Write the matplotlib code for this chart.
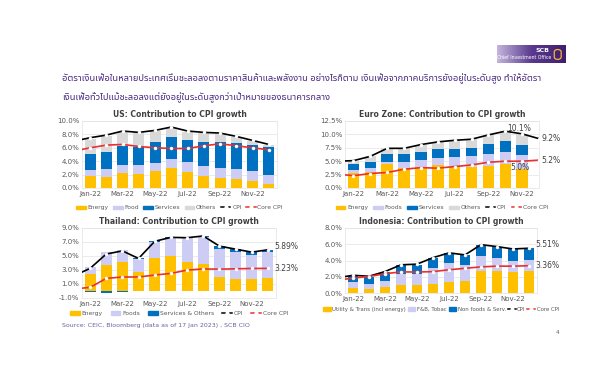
import numpy as np
import matplotlib
matplotlib.use("Agg")
import matplotlib.pyplot as plt
from matplotlib import font_manager
from matplotlib.ft2font import FT2Font
from matplotlib.lines import Line2D
from matplotlib.patches import Patch, FancyBboxPatch


def find_thai_font():
    # pick any installed family that has Thai glyphs
    names = []
    for f in font_manager.fontManager.ttflist:
        try:
            if FT2Font(f.fname).get_char_index(0x0E01):
                names.append(f.name)
        except Exception:
            pass
    for pref in ["Noto Sans Thai", "Noto Sans Thai Looped", "Loma", "Garuda"]:
        if pref in names:
            return pref
    return names[0] if names else "DejaVu Sans"


THAI_FONT = find_thai_font()

# ---------------- data ----------------
months = ["Jan-22", "Feb-22", "Mar-22", "Apr-22", "May-22", "Jun-22",
          "Jul-22", "Aug-22", "Sep-22", "Oct-22", "Nov-22", "Dec-22"]
# line series start at Dec-21 (drawn half-clipped at the left edge)
line_months = ["Dec-21"] + months

us_energy = [1.8, 1.7, 2.2, 2.1, 2.5, 3.0, 2.4, 1.8, 1.5, 1.3, 1.0, 0.6]
us_food = [0.9, 1.1, 1.2, 1.3, 1.3, 1.4, 1.5, 1.5, 1.5, 1.5, 1.5, 1.3]
us_services = [2.4, 2.6, 2.8, 2.7, 3.1, 3.2, 3.2, 3.6, 3.9, 3.9, 3.9, 4.2]
us_others = [2.2, 2.3, 2.2, 2.1, 1.6, 1.4, 1.3, 1.3, 1.2, 0.9, 0.6, 0.3]
us_cpi = [7.0, 7.5, 7.9, 8.5, 8.3, 8.6, 9.1, 8.5, 8.3, 8.2, 7.7, 7.1, 6.5]
us_core = [5.5, 6.0, 6.4, 6.5, 6.2, 6.0, 5.9, 5.9, 6.3, 6.6, 6.3, 6.0, 5.7]

ez_energy = [2.8, 3.0, 4.4, 3.7, 3.9, 4.2, 4.0, 3.9, 4.1, 4.4, 3.5]
ez_foods = [0.6, 0.8, 0.5, 1.1, 1.4, 1.4, 1.7, 2.0, 2.3, 2.3, 2.6]
ez_services = [1.1, 1.1, 1.5, 1.5, 1.5, 1.6, 1.6, 1.6, 1.8, 2.1, 2.0]
ez_others = [0.6, 1.0, 1.0, 1.1, 1.3, 1.4, 1.6, 1.6, 1.7, 1.8, 2.0]
ez_cpi = [5.0, 5.1, 5.9, 7.4, 7.4, 8.1, 8.6, 8.9, 9.1, 9.9, 10.6, 10.1, 9.2]
ez_core = [2.6, 2.3, 2.7, 2.9, 3.5, 3.8, 3.7, 4.0, 4.3, 4.8, 5.0, 5.0, 5.2]

th_energy = [2.4, 3.65, 4.1, 2.7, 4.65, 5.0, 4.2, 3.85, 2.0, 1.65, 1.65, 1.85]
th_foods = [1.0, 1.9, 1.8, 1.9, 2.4, 2.6, 3.35, 3.85, 4.05, 3.98, 3.45, 3.69]
th_services = [-0.2, -0.25, -0.2, 0.05, 0.05, 0.06, 0.06, 0.16, 0.35, 0.35, 0.45, 0.35]
th_cpi = [2.17, 3.23, 5.28, 5.73, 4.65, 7.10, 7.66, 7.61, 7.86, 6.41, 5.98, 5.55, 5.89]
th_core = [0.29, 0.52, 1.80, 2.00, 2.00, 2.28, 2.51, 2.99, 3.15, 3.12, 3.17, 3.22, 3.23]

id_util = [0.6, 0.5, 0.7, 1.0, 1.0, 1.1, 1.35, 1.5, 2.7, 2.7, 2.6, 2.7]
id_fb = [0.8, 0.6, 0.8, 1.4, 1.4, 2.0, 2.35, 1.9, 1.9, 1.6, 1.4, 1.4]
id_nonfood = [0.65, 0.9, 1.1, 1.0, 1.1, 1.2, 1.2, 1.3, 1.3, 1.4, 1.4, 1.4]
id_cpi = [1.87, 2.18, 2.06, 2.64, 3.47, 3.55, 4.35, 4.94, 4.69, 5.95, 5.71, 5.42, 5.51]
id_core = [1.56, 1.84, 2.03, 2.37, 2.60, 2.58, 2.63, 2.86, 3.04, 3.21, 3.31, 3.30, 3.36]

headline = ("อัตราเงินเฟ้อในหลายประเทศเริ่มชะลอลงตามราคาสินค้าและพลังงาน อย่างไรก็ตาม "
            "เงินเฟ้อจากภาคบริการยังอยู่ในระดับสูง ทำให้อัตรา",
            "เงินเฟ้อทั่วไปแม้ชะลอลงแต่ยังอยู่ในระดับสูงกว่าเป้าหมายของธนาคารกลาง")
source = "Source: CEIC, Bloomberg (data as of 17 Jan 2023) , SCB CIO"

YELLOW = "#FFC000"
LAV = "#CCCCF5"
BLUE = "#0070C0"
GREY = "#D9D9D9"
RED = "#E8312F"
TXT = "#595959"

W, H = 600, 371
fig = plt.figure(figsize=(6.0, 3.71), dpi=100)
fig.patch.set_facecolor("white")


def px_axes(x0, y0, x1, y1):
    return fig.add_axes([x0 / W, 1 - y1 / H, (x1 - x0) / W, (y1 - y0) / H])


def style(ax, ylim, yticks, xlim, title):
    ax.set_xlim(*xlim)
    ax.set_ylim(*ylim)
    ax.set_yticks(yticks)
    ax.set_yticklabels(["%.1f%%" % v for v in yticks])
    ax.set_xticks(range(0, 12, 2))
    ax.set_xticklabels(months[0:12:2])
    ax.tick_params(length=0, labelsize=5, labelcolor=TXT, pad=2)
    ax.grid(axis="y", color="#E3E3E3", lw=0.5)
    ax.set_axisbelow(True)
    for s in ax.spines.values():
        s.set_color("#E3E3E3")
        s.set_linewidth(0.5)
    ax.set_title(title, fontsize=5.5, fontweight="bold", color="#404040", pad=3)


def stack(ax, series, colors):
    x = np.arange(len(series[0]))
    pos = np.zeros(len(x))
    neg = np.zeros(len(x))
    for vals, c in zip(series, colors):
        v = np.array(vals, dtype=float)
        bottom = np.where(v >= 0, pos, neg)
        ax.bar(x, v, 0.68, bottom=bottom, color=c, lw=0)
        pos = pos + np.clip(v, 0, None)
        neg = neg + np.clip(v, None, 0)


def lines(ax, cpi, core):
    xl = np.arange(len(cpi)) - 1
    for vals, c in ((cpi, "black"), (core, RED)):
        ax.plot(xl, vals, color=c, lw=1.2, marker="o", ms=2.2,
                mfc="white", mec="white", mew=0.3, zorder=3)


def legend(ax, labels, colors, dy, fs=4.3, cs=0.8, hl=1.6):
    handles = [Patch(color=c) for c in colors]
    handles += [Line2D([], [], color="black", lw=1.1, marker="o", ms=2, mfc="white", mec="white"),
                Line2D([], [], color=RED, lw=1.1, marker="o", ms=2, mfc="white", mec="white")]
    ax.legend(handles, labels + ["CPI", "Core CPI"], loc="upper center",
              bbox_to_anchor=(0.5, dy), ncol=len(handles), frameon=False,
              fontsize=fs, handlelength=hl, handleheight=0.55, handletextpad=0.3,
              columnspacing=cs, labelcolor=TXT)


def tag(ax, x, y, s, ha="left", dx=2):
    ax.annotate(s, (x, y), xytext=(dx, 0), textcoords="offset points", fontsize=5.5,
                color="#404040", va="center", ha=ha, annotation_clip=False)


# US
ax = px_axes(82, 121, 277, 188)
style(ax, (0, 10), [0, 2, 4, 6, 8, 10], (-0.5, 11.5), "US: Contribution to CPI growth")
stack(ax, [us_energy, us_food, us_services, us_others], [YELLOW, LAV, BLUE, GREY])
lines(ax, us_cpi, us_core)
legend(ax, ["Energy", "Food", "Services", "Others"], [YELLOW, LAV, BLUE, GREY], -0.18, cs=0.75)

# Euro zone
ax = px_axes(345, 121, 539, 188)
style(ax, (0, 12.5), [0, 2.5, 5, 7.5, 10, 12.5], (-0.5, 11.0), "Euro Zone: Contribution to CPI growth")
stack(ax, [ez_energy, ez_foods, ez_services, ez_others], [YELLOW, LAV, BLUE, GREY])
lines(ax, ez_cpi, ez_core)
legend(ax, ["Energy", "Foods", "Services", "Others"], [YELLOW, LAV, BLUE, GREY], -0.18, cs=0.85)
tag(ax, 9.8, ez_cpi[-2] + 1.0, "10.1%", ha="center", dx=0)
tag(ax, 11, ez_cpi[-1], "9.2%")
tag(ax, 11, ez_core[-1], "5.2%")
tag(ax, 9.9, ez_core[-2] - 1.1, "5.0%", ha="center", dx=0)

# Thailand
ax = px_axes(82, 228, 276, 298)
style(ax, (-1, 9), [-1, 1, 3, 5, 7, 9], (-0.5, 11.5), "Thailand: Contribution to CPI growth")
stack(ax, [th_energy, th_foods, th_services], [YELLOW, LAV, BLUE])
lines(ax, th_cpi, th_core)
legend(ax, ["Energy", "Foods", "Services & Others"], [YELLOW, LAV, BLUE], -0.11, cs=1.4)
tag(ax, 11.2, th_cpi[-1] + 0.5, "5.89%")
tag(ax, 11.2, th_core[-1], "3.23%")

# Indonesia
ax = px_axes(345, 228, 537, 293)
style(ax, (0, 8), [0, 2, 4, 6, 8], (-0.5, 11.5), "Indonesia: Contribution to CPI growth")
stack(ax, [id_util, id_fb, id_nonfood], [YELLOW, LAV, BLUE])
lines(ax, id_cpi, id_core)
legend(ax, ["Utility & Trans (incl energy)", "F&B, Tobac", "Non foods & Serv."],
       [YELLOW, LAV, BLUE], -0.14, fs=3.9, cs=0.35, hl=1.4)
tag(ax, 11.2, id_cpi[-1] + 0.5, "5.51%")
tag(ax, 11.2, id_core[-1], "3.36%")

# header badge
bx = px_axes(497, 45, 566, 63)
grad = np.linspace(0, 1, 256).reshape(1, -1)
cmap = matplotlib.colors.LinearSegmentedColormap.from_list("b", ["#C4B6DC", "#5A3A8E", "#3E1F6E"])
bx.imshow(grad, aspect="auto", cmap=cmap, extent=(0, 1, 0, 1))
bx.set_axis_off()
bx.text(0.76, 0.68, "SCB", color="white", fontsize=4.5, fontweight="bold", ha="right", va="center")
bx.text(0.78, 0.3, "Chief Investment Office", color="white", fontsize=3.3, ha="right", va="center")
bx.add_patch(FancyBboxPatch((0.83, 0.2), 0.1, 0.55, boxstyle="round,pad=0,rounding_size=0.05",
                            fc="none", ec="#F5B335", lw=0.9, mutation_aspect=3))

# text on slide
for i, line in enumerate(headline):
    fig.text(62 / W, 1 - (79 + i * 19) / H, line, fontsize=6.7, color="#4B2C83",
             family=[THAI_FONT, "DejaVu Sans"], va="center")
fig.text(62 / W, 1 - 326 / H, source, fontsize=4.5, color="#6A62A0", va="center")
fig.text(556 / W, 1 - 332 / H, "4", fontsize=4, color=TXT, va="center")

fig.savefig("out.png", dpi=100, facecolor="white")
